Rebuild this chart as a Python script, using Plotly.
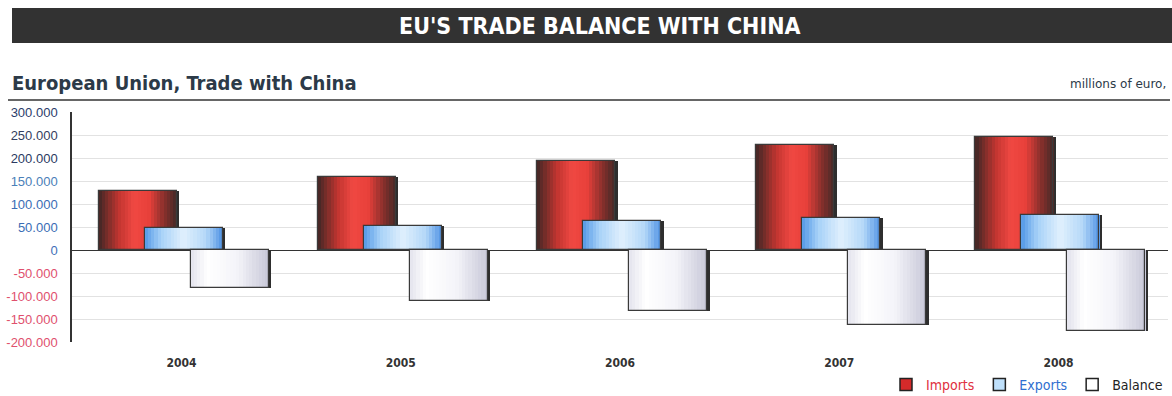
import plotly.graph_objects as go

years = ["2004", "2005", "2006", "2007", "2008"]
imports = [128000, 159000, 193000, 229000, 245000]
exports = [48000, 52000, 63000, 70000, 76000]
balance = [-82000, -110000, -133000, -163000, -177000]

tick_vals = [300000, 250000, 200000, 150000, 100000, 50000, 0, -50000, -100000, -150000, -200000]
tick_labels = ["300.000", "250.000", "200.000", "150.000", "100.000", "50.000", "0",
               "-50.000", "-100.000", "-150.000", "-200.000"]
tick_colors = ["#2b3d6b", "#34405e", "#2a3a62", "#4a80b8", "#3a6db5", "#3a6db5", "#3f70b8",
               "#e0506e", "#e0506e", "#e0506e", "#e0506e"]

W, H = 1172, 396
L, R, T, B = 72, 4, 112, 54
PW, PH = W - L - R, H - T - B


def px(x):
    return (x - L) / PW


def py(y):
    return (H - B - y) / PH


def hex2rgb(h):
    h = h.lstrip("#")
    return [int(h[i:i + 2], 16) for i in (0, 2, 4)]


def interp(stops, n):
    out = []
    for k in range(n):
        t = k / (n - 1)
        for j in range(len(stops) - 1):
            p0, c0 = stops[j]
            p1, c1 = stops[j + 1]
            if p0 <= t <= p1:
                f = 0 if p1 == p0 else (t - p0) / (p1 - p0)
                a, b = hex2rgb(c0), hex2rgb(c1)
                out.append("rgb(%d,%d,%d)" % tuple(round(a[i] + (b[i] - a[i]) * f) for i in range(3)))
                break
    return out


fig = go.Figure()

BW = 0.356
NS = 24
series = [
    ("Imports", imports, -0.379,
     [(0, "#4a2826"), (0.25, "#c23530"), (0.45, "#f04842"), (0.65, "#e8403a"), (0.85, "#8a302c"), (1, "#4e2a28")]),
    ("Exports", exports, -0.169,
     [(0, "#5c9ee8"), (0.2, "#a8d2f8"), (0.5, "#e0f0fd"), (0.8, "#b4d8f8"), (1, "#5a9ae6")]),
    ("Balance", balance, 0.041,
     [(0, "#e6e6ef"), (0.2, "#ffffff"), (0.6, "#f4f4f9"), (1, "#cacada")]),
]

for name, vals, off, stops in series:
    fig.add_trace(go.Bar(x=years, y=vals, offset=off + 0.012, width=BW,
                         marker=dict(color="#2e2e2e", line=dict(width=0)),
                         showlegend=False, hoverinfo="skip"))
    grad = interp(stops, NS)
    sw = BW / NS
    for i, c in enumerate(grad):
        fig.add_trace(go.Bar(x=years, y=vals, offset=off + i * sw, width=sw * 1.05,
                             marker=dict(color=c, line=dict(width=0)),
                             showlegend=False, hoverinfo="skip"))
    fig.add_trace(go.Bar(x=years, y=vals, offset=off, width=BW,
                         marker=dict(color="rgba(0,0,0,0)", line=dict(color="#3a3a3a", width=1.2)),
                         showlegend=False, hoverinfo="skip"))

legend_cols = {"Imports": "#e03040", "Exports": "#2f6fd0", "Balance": "#222222"}
legend_fill = {"Imports": "#d42a2a", "Exports": "#bfe0fb", "Balance": "#ffffff"}
for name in ["Imports", "Exports", "Balance"]:
    fig.add_trace(go.Bar(x=[None], y=[None],
                         name=f'<span style="color:{legend_cols[name]}">{name}</span>',
                         marker=dict(color=legend_fill[name], line=dict(color="#222", width=1.5))))

fig.update_layout(
    width=W, height=H,
    margin=dict(l=L, r=R, t=T, b=B, autoexpand=False),
    paper_bgcolor="white", plot_bgcolor="white",
    barmode="overlay",
    bargap=0,
    font=dict(family="DejaVu Sans Condensed, DejaVu Sans", color="#222"),
    showlegend=True,
    legend=dict(orientation="h", x=1.0, xanchor="right", y=py(385), yanchor="middle",
                font=dict(size=14, family="DejaVu Sans Condensed, DejaVu Sans"),
                bgcolor="rgba(0,0,0,0)", itemwidth=30, tracegroupgap=0),
    xaxis=dict(type="category", showgrid=False, showline=False, ticks="",
               tickfont=dict(size=12, family="DejaVu Sans Condensed, DejaVu Sans", color="#333"),
               ticklabelstandoff=12, tickprefix="<b>", ticksuffix="</b>"),
    yaxis=dict(range=[-200000, 300000], tickvals=tick_vals,
               ticktext=[f'<span style="color:{c}">{t}</span>' for t, c in zip(tick_labels, tick_colors)],
               showgrid=True, gridcolor="#e2e2e2", gridwidth=1,
               zeroline=True, zerolinecolor="#333", zerolinewidth=1.2,
               showline=True, linecolor="#333", linewidth=1.5,
               tickfont=dict(size=13, family="Liberation Sans Narrow, Liberation Sans, Arial"),
               ticks="", ticklabelstandoff=10, fixedrange=True),
    shapes=[
        dict(type="rect", xref="paper", yref="paper", x0=px(12), x1=px(1172), y0=py(43), y1=py(8),
             fillcolor="#323232", line=dict(width=0), layer="below"),
        dict(type="line", xref="paper", yref="paper", x0=px(8), x1=px(1170), y0=py(100), y1=py(100),
             line=dict(color="#333", width=1.5)),
    ],
    annotations=[
        dict(text="<b>EU'S TRADE BALANCE WITH CHINA</b>", xref="paper", yref="paper",
             x=px(599), y=py(26), xanchor="center", yanchor="middle", showarrow=False,
             font=dict(size=23, color="white", family="DejaVu Sans Condensed, DejaVu Sans")),
        dict(text="<b>European Union, Trade with China</b>", xref="paper", yref="paper",
             x=px(10), y=py(83), xanchor="left", yanchor="middle", showarrow=False,
             font=dict(size=20, color="#2c3a48", family="DejaVu Sans Condensed, DejaVu Sans")),
        dict(text="millions of euro,", xref="paper", yref="paper",
             x=px(1168), y=py(84), xanchor="right", yanchor="middle", showarrow=False,
             font=dict(size=12, color="#2c3a48", family="DejaVu Sans")),
    ],
)

fig.write_html("out.html")
